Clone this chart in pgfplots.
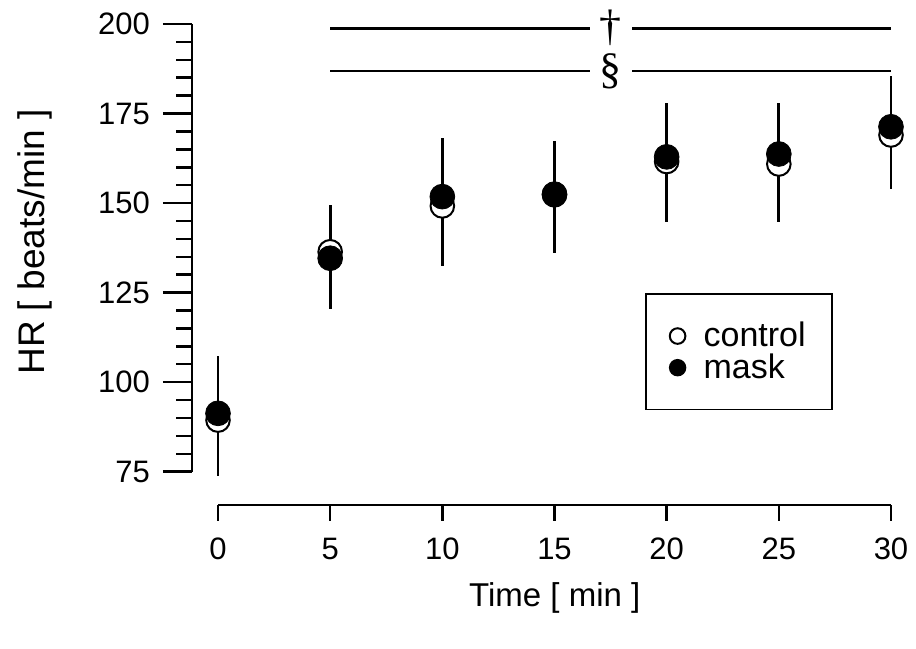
\documentclass[border=0pt]{standalone}
\usepackage{fontspec}
\setmainfont{Liberation Sans}
\newfontfamily\seriffont{Liberation Serif}
\usepackage{pgfplots}
\usepackage{pgfplotstable}
\pgfplotsset{compat=1.18}

% heart rate, mean of both groups and one bar (mid +- err) per time point
\pgfplotstableread{
t  ctrl  mask  mid     err
0  89.4  91.3  90.55   16.75
5  136.4 134.6 134.9   14.6
10 149.2 151.8 150.3   17.8
15 152.3 152.5 151.75  15.65
20 161.6 162.9 161.35  16.55
25 160.9 163.7 161.35  16.55
30 169.0 171.3 169.7   15.9
}\hrdata

\begin{document}
\begin{tikzpicture}
\begin{axis}[
  x=11.2165pt, y=1.7908pt,
  xmin=-1.159, xmax=30, ymin=65.7, ymax=200,
  clip=false,
  axis lines=left,
  axis line style={draw=none},
  tick align=outside,
  major tick length=14.5pt, minor tick length=7.75pt,
  xtick={0,5,...,30}, minor xtick={0,5,...,30},
  ytick={75,100,...,200}, minor ytick={75,80,...,200},
  tick style={black, line width=1.25pt},
  major x tick style={draw=none},
  tick label style={font=\fontsize{15.5}{18}\selectfont},
  yticklabel style={xshift=-3pt},
  xticklabel style={yshift=1.5pt},
  /pgf/number format/assume math mode=true,
  xlabel={Time [ min ]},
  ylabel={HR [ beats/min ]},
  xlabel style={font=\fontsize{16.5}{20}\selectfont,
    at={(axis description cs:0.519,-0.1936)}, anchor=center},
  ylabel style={font=\fontsize{18.5}{22}\selectfont,
    at={(axis description cs:-0.2246,0.5466)}, anchor=center},
  legend style={at={(axis cs:19.03,124.8)}, anchor=north west,
    draw=black, line width=0.9pt,
    font=\fontsize{17}{17}\selectfont,
    inner xsep=12pt, inner ysep=13pt, row sep=0pt,
    nodes={inner sep=1pt}},
  legend cell align=left,
  legend image code/.code={
    \draw[#1, mark size=3.9pt] plot coordinates {(0pt,0pt)};
    \path[draw=none, fill=none] (0pt,0pt) -- (12pt,0pt);},
]
% invisible frame: the whole page
\path (axis cs:-9.718,25.5) rectangle (axis cs:31.115,206.7);

\draw[line width=1.4pt] (axis cs:-1.159,75) -- (axis cs:-1.159,200);
\draw[line width=1.4pt] (axis cs:0,65.7) -- (axis cs:30,65.7);

\addplot[draw=none, forget plot,
  error bars/.cd, y dir=both, y explicit, error mark=none,
  error bar style={draw=black, line width=1.35pt}]
  table[x=t, y=mid, y error=err] {\hrdata};

\addplot[only marks, mark=*, mark size=5.9pt,
  mark options={fill=white, draw=black, line width=1pt}]
  table[x=t, y=ctrl] {\hrdata};
\addlegendentry{control}

\addplot[only marks, mark=*, mark size=6.2pt,
  mark options={fill=black, draw=black}]
  table[x=t, y=mask] {\hrdata};
\addlegendentry{mask}

% significance bars
\draw[line width=1.25pt] (axis cs:5,198.8) -- (axis cs:30,198.8)
  node[midway, fill=white, inner xsep=5pt, inner ysep=0pt,
  font=\seriffont\fontsize{22}{22}\selectfont] {†};
\draw[line width=1.25pt] (axis cs:5,186.9) -- (axis cs:30,186.9)
  node[midway, fill=white, inner xsep=5pt, inner ysep=0pt,
  font=\seriffont\fontsize{22}{22}\selectfont] {§};
\end{axis}
\end{tikzpicture}
\end{document}
